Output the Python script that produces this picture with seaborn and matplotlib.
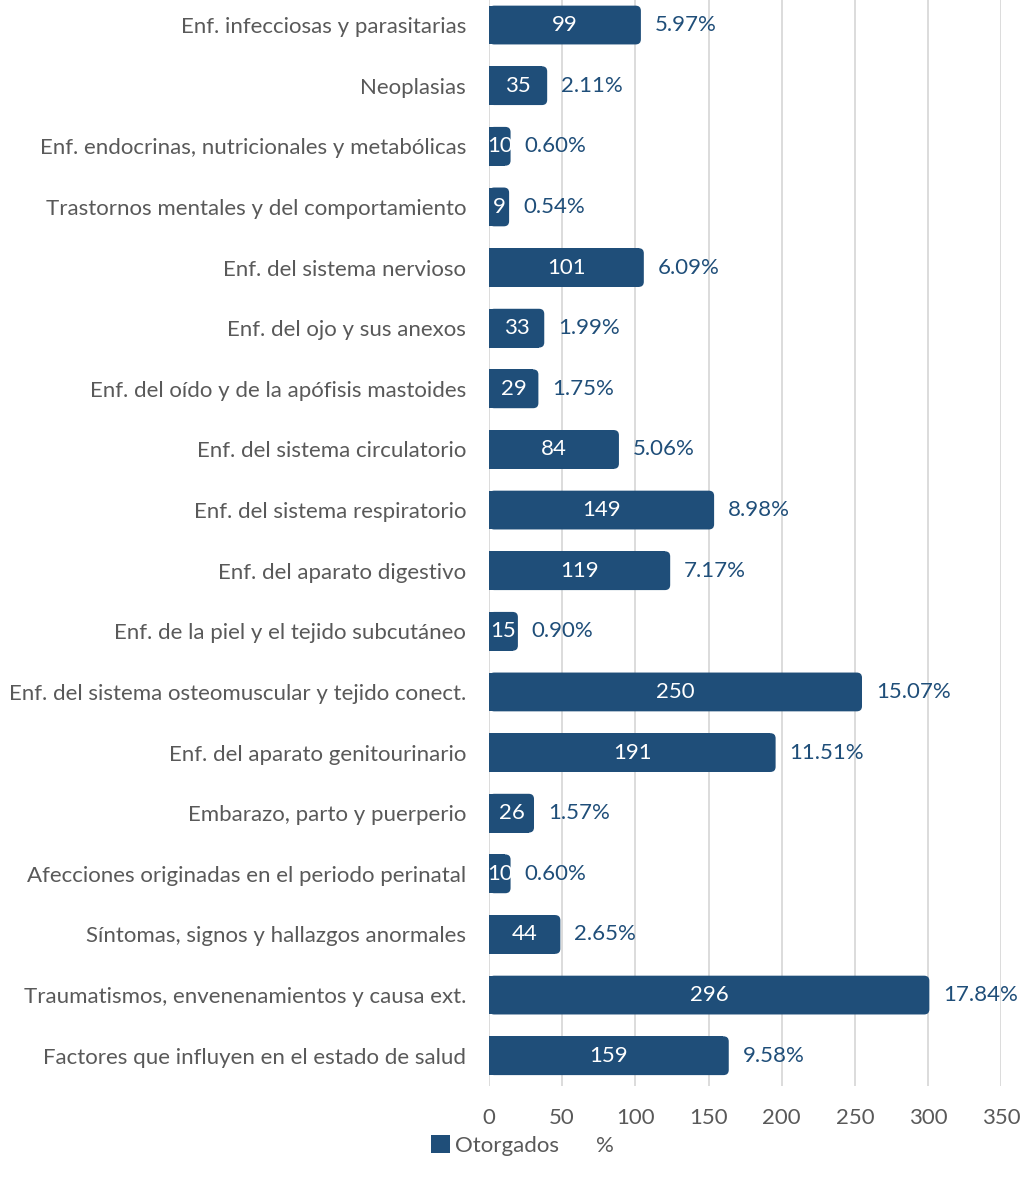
import matplotlib
matplotlib.use("Agg")
import matplotlib.pyplot as plt
import seaborn as sns
import pandas as pd
from matplotlib.patches import FancyBboxPatch, Rectangle, Patch
from matplotlib.lines import Line2D

categories = [
    "Enf. infecciosas y parasitarias",
    "Neoplasias",
    "Enf. endocrinas, nutricionales y metabólicas",
    "Trastornos mentales y del comportamiento",
    "Enf. del sistema nervioso",
    "Enf. del ojo y sus anexos",
    "Enf. del oído y de la apófisis mastoides",
    "Enf. del sistema circulatorio",
    "Enf. del sistema respiratorio",
    "Enf. del aparato digestivo",
    "Enf. de la piel y el tejido subcutáneo",
    "Enf. del sistema osteomuscular y tejido conect.",
    "Enf. del aparato genitourinario",
    "Embarazo, parto y puerperio",
    "Afecciones originadas en el periodo perinatal",
    "Síntomas, signos y hallazgos anormales",
    "Traumatismos, envenenamientos y causa ext.",
    "Factores que influyen en el estado de salud",
]
otorgados = [99, 35, 10, 9, 101, 33, 29, 84, 149, 119, 15, 250, 191, 26, 10, 44, 296, 159]
porcentaje = [5.97, 2.11, 0.60, 0.54, 6.09, 1.99, 1.75, 5.06, 8.98, 7.17, 0.90, 15.07,
              11.51, 1.57, 0.60, 2.65, 17.84, 9.58]
xticks = [0, 50, 100, 150, 200, 250, 300, 350]

NAVY = "#1F4E79"
GRAY = "#595959"
FS = 16

sns.set_theme(style="white")
plt.rcParams["font.family"] = ["Lato", "DejaVu Sans"]

df = pd.DataFrame({"cat": categories, "val": otorgados})

fig = plt.figure(figsize=(10.25, 11.82), dpi=100)
ax = fig.add_axes([0.477, 0.0812, 0.5, 0.9188])

sns.barplot(data=df, x="val", y="cat", orient="h", color=NAVY, width=0.64,
            saturation=1, ax=ax, zorder=3)

ax.set_xlim(0, 350)
ax.set_ylim(17.5, -0.413)
ax.set_xticks(xticks)
ax.set_xticklabels([str(t) for t in xticks])
ax.grid(axis="x", color="#D9D9D9", linewidth=1.3, zorder=0)
ax.set_axisbelow(True)
for s in ax.spines.values():
    s.set_visible(False)
ax.set_xlabel("")
ax.set_ylabel("")
ax.tick_params(axis="y", length=0, pad=16.5, labelsize=FS, labelcolor=GRAY)
ax.tick_params(axis="x", length=0, pad=16, labelsize=FS, labelcolor=GRAY)

# bar outline extension (px -> data) and rounded right corners
px_per_unit = 512.0 / 350.0
ext = 7.0 / px_per_unit
rx = 3.6
aspect = 0.085 / rx
bars = list(ax.patches)
for p, v, pc in zip(bars, otorgados, porcentaje):
    x, y, w, h = p.get_x(), p.get_y(), p.get_width(), p.get_height()
    p.set_visible(False)
    W = w + ext
    r = min(rx, W / 2)
    fb = FancyBboxPatch((x, y), W, h,
                        boxstyle=f"round,pad=0,rounding_size={r}",
                        mutation_aspect=aspect, facecolor=NAVY, edgecolor="none",
                        linewidth=0, zorder=3)
    ax.add_patch(fb)
    ax.add_patch(Rectangle((x, y), max(W - r, 0), h, facecolor=NAVY, edgecolor="none",
                           linewidth=0, antialiased=False, zorder=3))
    yc = y + h / 2
    ax.text(x + W / 2, yc, str(v), ha="center", va="center", color="white",
            fontsize=FS, zorder=4)
    ax.annotate(f"{pc:.2f}%", xy=(x + W, yc), xytext=(10, 0), textcoords="offset points",
                ha="left", va="center", color=NAVY, fontsize=FS, zorder=4)

handles = [Patch(facecolor=NAVY, edgecolor="none"),
           Line2D([], [], linestyle="none", marker=None)]
fig.legend(handles, ["Otorgados", "%"], loc="center", bbox_to_anchor=(0.51, 0.031),
           ncol=2, frameon=False, fontsize=FS, labelcolor=GRAY,
           handlelength=0.85, handleheight=0.85, handletextpad=0.2, columnspacing=0.65)

fig.savefig("out.png", dpi=100)
